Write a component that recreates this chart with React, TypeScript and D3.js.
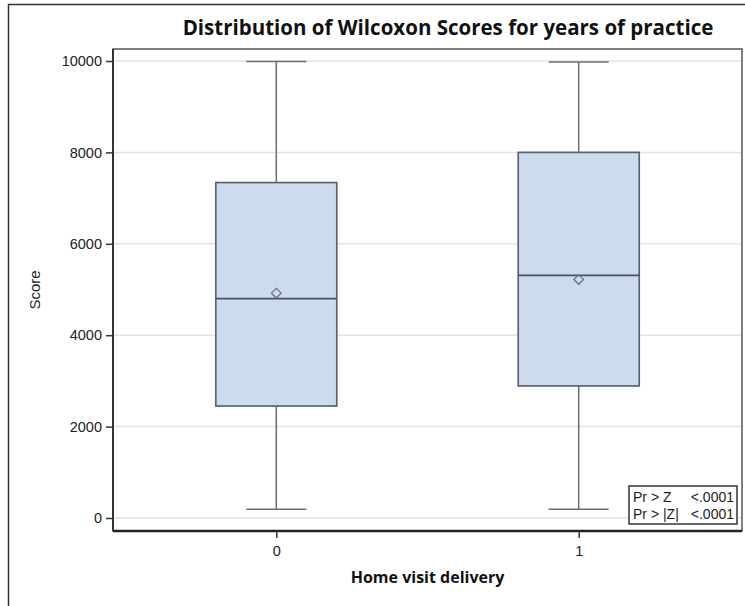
import { useEffect, useRef } from "react";
import * as d3 from "d3";

const categories = ["0", "1"];
const whiskerLow = [190, 190];
const q1 = [2450, 2890];
const median = [4800, 5310];
const q3 = [7340, 8000];
const whiskerHigh = [9990, 9980];
const means = [4920, 5220];
const yTicks = [0, 2000, 4000, 6000, 8000, 10000];
const insetLabels = ["Pr > Z", "Pr > |Z|"];
const insetValues = ["<.0001", "<.0001"];

const W = 745;
const H = 606;
const frame = { left: 113, top: 49, right: 742, bottom: 531 };

export default function App() {
  const ref = useRef(null);

  useEffect(() => {
    draw();
  });

  function draw() {
    const svg = d3.select(ref.current);
    svg.selectAll("*").remove();

    // outer border
    svg
      .append("rect")
      .attr("x", 8.5)
      .attr("y", 4.5)
      .attr("width", W)
      .attr("height", H)
      .attr("fill", "none")
      .attr("stroke", "#333")
      .attr("stroke-width", 1.5);

    svg
      .append("text")
      .attr("x", 448)
      .attr("y", 35)
      .attr("text-anchor", "middle")
      .attr("font-family", "Open Sans")
      .attr("font-weight", 700)
      .attr("font-size", 20.5)
      .attr("fill", "#111")
      .text("Distribution of Wilcoxon Scores for years of practice");

    const x = d3
      .scalePoint()
      .domain(categories)
      .range([frame.left, frame.right])
      .padding(0.54);
    const y = d3.scaleLinear().domain([0, 10000]).range([518, 61]);

    // gridlines
    svg
      .append("g")
      .selectAll("line")
      .data(yTicks)
      .enter()
      .append("line")
      .attr("x1", frame.left)
      .attr("x2", frame.right)
      .attr("y1", (d) => y(d))
      .attr("y2", (d) => y(d))
      .attr("stroke", "#e3e3e3")
      .attr("stroke-width", 1.5);

    const boxW = 121;
    const capW = 60;
    const boxes = svg
      .append("g")
      .selectAll("g")
      .data(categories)
      .enter()
      .append("g");

    // whiskers
    boxes
      .append("line")
      .attr("x1", (d) => x(d)!)
      .attr("x2", (d) => x(d)!)
      .attr("y1", (_, i) => y(whiskerHigh[i]))
      .attr("y2", (_, i) => y(whiskerLow[i]))
      .attr("stroke", "#6d6d6d")
      .attr("stroke-width", 1.5);
    [whiskerHigh, whiskerLow].forEach((arr) => {
      boxes
        .append("line")
        .attr("x1", (d) => x(d)! - capW / 2)
        .attr("x2", (d) => x(d)! + capW / 2)
        .attr("y1", (_, i) => y(arr[i]))
        .attr("y2", (_, i) => y(arr[i]))
        .attr("stroke", "#6d6d6d")
        .attr("stroke-width", 1.5);
    });

    boxes
      .append("rect")
      .attr("x", (d) => x(d)! - boxW / 2)
      .attr("y", (_, i) => y(q3[i]))
      .attr("width", boxW)
      .attr("height", (_, i) => y(q1[i]) - y(q3[i]))
      .attr("fill", "#ccdbed")
      .attr("stroke", "#5a6470")
      .attr("stroke-width", 1.7);

    boxes
      .append("line")
      .attr("x1", (d) => x(d)! - boxW / 2)
      .attr("x2", (d) => x(d)! + boxW / 2)
      .attr("y1", (_, i) => y(median[i]))
      .attr("y2", (_, i) => y(median[i]))
      .attr("stroke", "#4a525c")
      .attr("stroke-width", 1.7);

    boxes
      .append("path")
      .attr("d", d3.symbol(d3.symbolDiamond2, 60)())
      .attr(
        "transform",
        (d, i) => "translate(" + x(d) + "," + y(means[i]) + ")"
      )
      .attr("fill", "none")
      .attr("stroke", "#6a7480")
      .attr("stroke-width", 1.3);

    // frame
    svg
      .append("rect")
      .attr("x", frame.left)
      .attr("y", frame.top)
      .attr("width", frame.right - frame.left)
      .attr("height", frame.bottom - frame.top)
      .attr("fill", "none")
      .attr("stroke", "#555")
      .attr("stroke-width", 1.5);
    svg
      .append("line")
      .attr("x1", frame.left)
      .attr("x2", frame.right)
      .attr("y1", frame.bottom)
      .attr("y2", frame.bottom)
      .attr("stroke", "#222")
      .attr("stroke-width", 2.5);
    svg
      .append("line")
      .attr("x1", frame.left)
      .attr("x2", frame.left)
      .attr("y1", frame.top)
      .attr("y2", frame.bottom)
      .attr("stroke", "#333")
      .attr("stroke-width", 2);

    // y axis
    const yAxis = svg
      .append("g")
      .attr("transform", "translate(" + frame.left + ",0)")
      .call(
        d3
          .axisLeft(y)
          .tickValues(yTicks)
          .tickFormat(d3.format("d"))
          .tickSize(7)
          .tickSizeOuter(0)
          .tickPadding(4)
      );
    yAxis.select(".domain").remove();
    yAxis.selectAll("line").attr("stroke", "#333").attr("stroke-width", 1.5);
    yAxis
      .selectAll("text")
      .attr("font-family", "Liberation Sans")
      .attr("font-size", 14.5)
      .attr("fill", "#222");

    // x axis
    const xAxis = svg
      .append("g")
      .attr("transform", "translate(0," + frame.bottom + ")")
      .call(d3.axisBottom(x).tickSize(7).tickSizeOuter(0).tickPadding(8));
    xAxis.select(".domain").remove();
    xAxis.selectAll("line").attr("stroke", "#333").attr("stroke-width", 1.5);
    xAxis
      .selectAll("text")
      .attr("font-family", "Liberation Sans")
      .attr("font-size", 14.5)
      .attr("fill", "#222");

    svg
      .append("text")
      .attr(
        "transform",
        "translate(40," + (frame.top + frame.bottom) / 2 + ") rotate(-90)"
      )
      .attr("text-anchor", "middle")
      .attr("font-family", "Liberation Sans")
      .attr("font-size", 15)
      .attr("fill", "#222")
      .text("Score");

    svg
      .append("text")
      .attr("x", (frame.left + frame.right) / 2)
      .attr("y", 583)
      .attr("text-anchor", "middle")
      .attr("font-family", "Open Sans")
      .attr("font-weight", 700)
      .attr("font-size", 16)
      .attr("fill", "#111")
      .text("Home visit delivery");

    // inset table
    const inset = svg.append("g");
    inset
      .append("rect")
      .attr("x", 629)
      .attr("y", 486)
      .attr("width", 108)
      .attr("height", 38)
      .attr("fill", "white")
      .attr("stroke", "#333")
      .attr("stroke-width", 1.5);
    insetLabels.forEach((lab, i) => {
      inset
        .append("text")
        .attr("x", 633)
        .attr("y", 502 + i * 17)
        .attr("font-family", "Liberation Sans")
        .attr("font-size", 14)
        .attr("fill", "#222")
        .text(lab);
      inset
        .append("text")
        .attr("x", 734)
        .attr("y", 502 + i * 17)
        .attr("text-anchor", "end")
        .attr("font-family", "Liberation Sans")
        .attr("font-size", 14)
        .attr("fill", "#222")
        .text(insetValues[i]);
    });
  }

  return (
    <svg
      ref={ref}
      width={W}
      height={H}
      style={{ position: "absolute", left: 0, top: 0, background: "white" }}
    ></svg>
  );
}
